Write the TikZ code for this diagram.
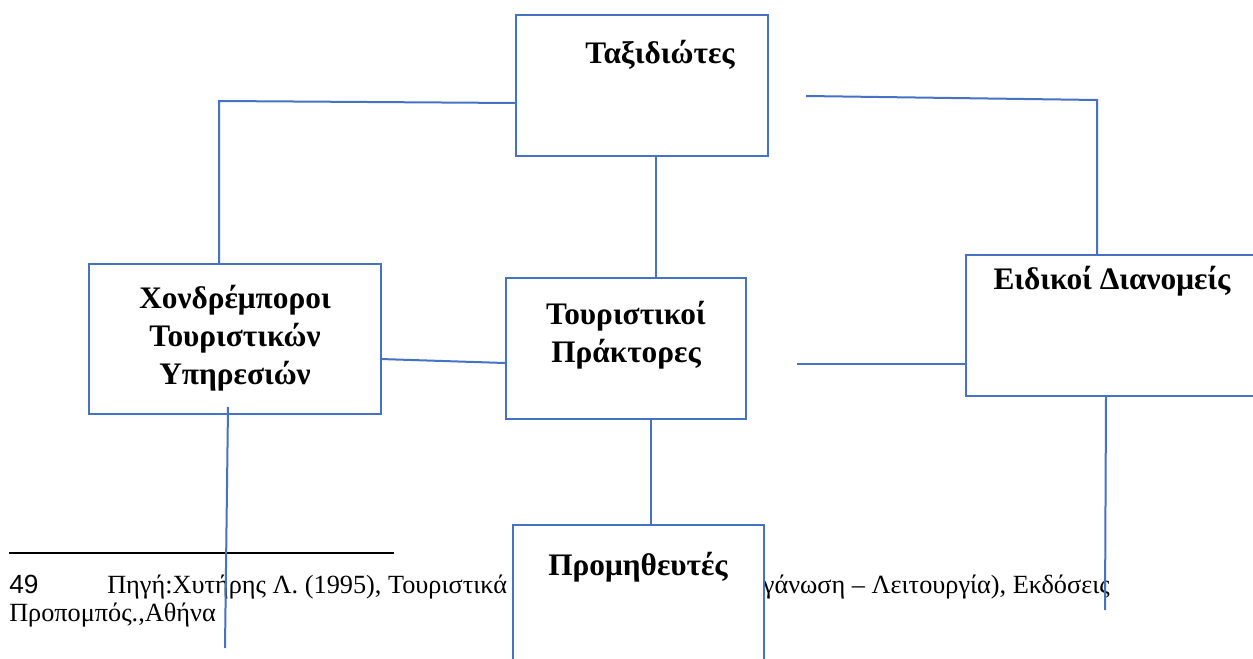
\documentclass[tikz,border=0pt]{standalone}
\usepackage{fontspec}
\setmainfont{Liberation Serif}
\newfontfamily\arialfont{Liberation Sans}
\usetikzlibrary{calc}
\definecolor{boxblue}{RGB}{68,114,196}
\tikzset{
  box/.style = {draw=boxblue, fill=white, line width=1.5pt, inner sep=0pt},
  lbl/.style = {font=\fontsize{23.5}{28.5}\selectfont\bfseries, align=center, inner sep=0pt},
  link/.style = {draw=boxblue, line width=1.5pt},
  note/.style = {font=\fontsize{19.7}{23}\selectfont, inner sep=0pt, anchor=base west}
}

\begin{document}
\begin{tikzpicture}[x=0.75pt, y=-0.75pt]
\useasboundingbox (0,0) rectangle (1253,659);
\fill[white] (0,0) rectangle (1253,659);
\clip (0,0) rectangle (1253,659);

\begin{scope}
\draw[line width=1.5pt] (9,553) -- (394,553) ;
\node[note] (fnum) at (9,593) {\arialfont 49};
\node[note] (fsrc) at (107,593) {Πηγή:Χυτήρης Λ. (1995), Τουριστικά};
\node[note, anchor=base east] (fpub) at (1110,593) {γάνωση – Λειτουργία), Εκδόσεις};
\node[note] (fcity) at (9,621) {Προπομπός.,Αθήνα};
\end{scope}

\node[box, minimum width=189pt, minimum height=105.75pt] (trav) at (642,85.5) {};
\node[box, minimum width=219pt, minimum height=112.5pt] (whole) at (235,339) {};
\node[box, minimum width=180pt, minimum height=105.75pt] (agents) at (626,348.5) {};
\node[box, minimum width=240pt, minimum height=105.75pt] (spec) at (1126,325.5) {};
\node[box, minimum width=188.25pt, minimum height=123.75pt] (supp) at (638.5,607.5) {};

\node[lbl] (travtxt) at (660,55) {Ταξιδιώτες};
\node[lbl] (wholetxt) at (235,338) {Χονδρέμποροι\\Τουριστικών\\Υπηρεσιών};
\node[lbl] (agentstxt) at (626,335) {Τουριστικοί\\Πράκτορες};
\node[lbl] (spectxt) at (1112,281) {Ειδικοί Διανομείς};
\node[lbl] (supptxt) at (638,567) {Προμηθευτές};

\coordinate (lbend) at (219,101);
\coordinate (rfree) at (806,96);
\coordinate (rbend) at (1097,100);
\coordinate (afree) at (797,364);
\coordinate (mid) at (656,0);
\coordinate (mid2) at (651,0);
\coordinate (wend) at (225,648);
\coordinate (send) at (1105,610);

\draw[link] ($(trav.west)+(0,17.5)$) -- (lbend) -- (whole.north -| lbend) ;
\draw[link] (rfree) -- (rbend) -- (spec.north -| rbend) ;
\draw[link] (trav.south -| mid) -- (agents.north -| mid) ;
\draw[link] ($(whole.east)+(-2,20)$) -- ($(agents.west)+(0,14.5)$) ;
\draw[link] (afree) -- ($(spec.west)+(0,38.5)$) ;
\draw[link] (agents.south -| mid2) -- (supp.north -| mid2) ;
\draw[link] ($(whole.south)+(-7,-8)$) -- (wend) ;
\draw[link] ($(spec.south)+(-20,0)$) -- (send) ;
\end{tikzpicture}
\end{document}
